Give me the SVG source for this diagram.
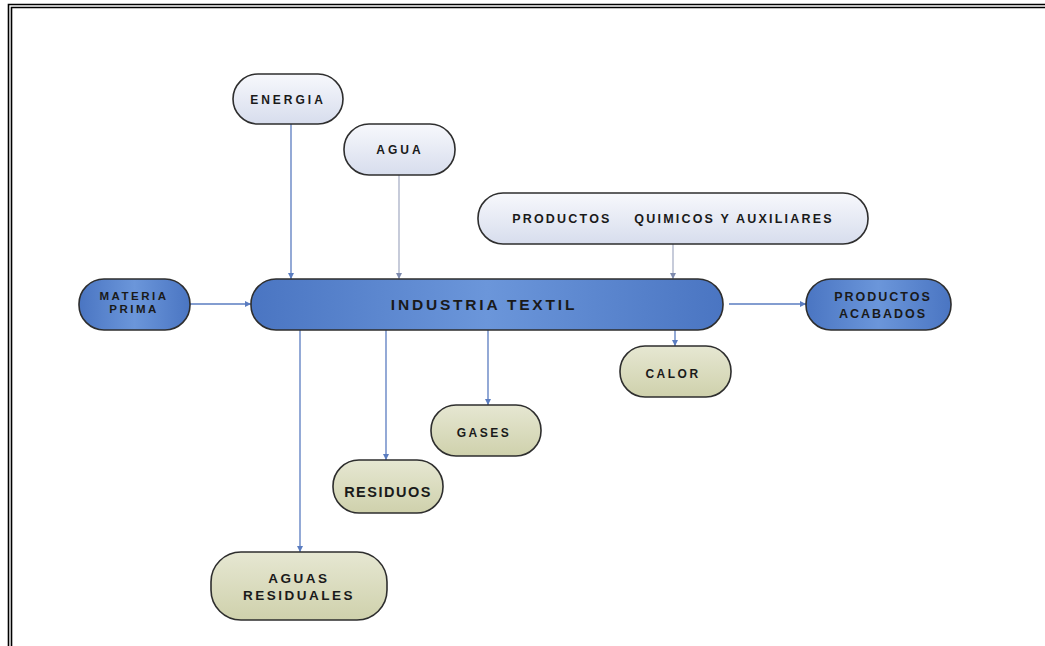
<svg xmlns="http://www.w3.org/2000/svg" width="1045" height="646" viewBox="0 0 1045 646">
  <style>
    .frame { fill: none; stroke: #000; stroke-width: 1.6; }
    .node { stroke: #2e2e2e; stroke-width: 1.6; }
    .light { fill: url(#gLight); }
    .blue { fill: url(#gBlue); }
    .olive { fill: url(#gOlive); }
    .label { font-family: "Liberation Sans", Arial, sans-serif; font-weight: bold; fill: #1a1a1a; text-anchor: middle; }
    .conn { fill: none; stroke: #5a7cc0; stroke-width: 1.3; }
    .conn.faint { stroke: #a9b0c6; }
  </style>
  <defs>
    <linearGradient id="gLight" x1="0" y1="0" x2="0" y2="1">
      <stop offset="0" stop-color="#f7f8fc"/>
      <stop offset="1" stop-color="#d7dded"/>
    </linearGradient>
    <linearGradient id="gBlue" x1="0" y1="0" x2="1" y2="0">
      <stop offset="0" stop-color="#4a75c2"/>
      <stop offset="0.5" stop-color="#6b96da"/>
      <stop offset="1" stop-color="#4a75c2"/>
    </linearGradient>
    <linearGradient id="gOlive" x1="0" y1="0" x2="0" y2="1">
      <stop offset="0" stop-color="#e6e7d2"/>
      <stop offset="1" stop-color="#cfd1ac"/>
    </linearGradient>
    <marker id="arrow" viewBox="0 0 10 10" refX="10" refY="5" markerWidth="6" markerHeight="6" orient="auto" markerUnits="userSpaceOnUse">
      <path d="M0,0 L10,5 L0,10 z" fill="#5a7cc0"/>
    </marker>
    <marker id="arrowFaint" viewBox="0 0 10 10" refX="10" refY="5" markerWidth="6" markerHeight="6" orient="auto" markerUnits="userSpaceOnUse">
      <path d="M0,0 L10,5 L0,10 z" fill="#7d8aae"/>
    </marker>
  </defs>

  <rect width="1045" height="646" fill="#fff"/>

  <!-- page frame: double rule along top and left -->
  <g id="frame">
    <path class="frame" d="M8.5,646 V4.5 H1045"/>
    <path class="frame" d="M11.5,646 V7.5 H1045"/>
  </g>

  <g id="connectors">
    <line class="conn" x1="291" y1="124" x2="291" y2="279" marker-end="url(#arrow)"/>
    <line class="conn faint" x1="399" y1="175" x2="399" y2="279" marker-end="url(#arrowFaint)"/>
    <line class="conn faint" x1="673" y1="244" x2="673" y2="279" marker-end="url(#arrowFaint)"/>
    <line class="conn" x1="190" y1="304" x2="251" y2="304" marker-end="url(#arrow)"/>
    <line class="conn" x1="729" y1="304" x2="806" y2="304" marker-end="url(#arrow)"/>
    <line class="conn" x1="675" y1="330" x2="675" y2="346" marker-end="url(#arrow)"/>
    <line class="conn" x1="488" y1="330" x2="488" y2="405" marker-end="url(#arrow)"/>
    <line class="conn" x1="386" y1="330" x2="386" y2="460" marker-end="url(#arrow)"/>
    <line class="conn" x1="300" y1="330" x2="300" y2="552" marker-end="url(#arrow)"/>
  </g>

  <g id="energia">
    <rect class="node light" x="233" y="74" width="110" height="50" rx="25"/>
    <text class="label" x="288" y="104" font-size="12" letter-spacing="3">ENERGIA</text>
  </g>

  <g id="agua">
    <rect class="node light" x="344" y="124" width="111" height="51" rx="25"/>
    <text class="label" x="400" y="154" font-size="12" letter-spacing="3">AGUA</text>
  </g>

  <g id="productos-quimicos">
    <rect class="node light" x="478" y="193" width="390" height="51" rx="25"/>
    <text class="label" x="673" y="223" font-size="12.5" letter-spacing="2.2" xml:space="preserve">PRODUCTOS    QUIMICOS Y AUXILIARES</text>
  </g>

  <g id="materia-prima">
    <rect class="node blue" x="79" y="279" width="111" height="51" rx="25"/>
    <text class="label" x="134" y="300" font-size="11.5" letter-spacing="2.5">MATERIA</text>
    <text class="label" x="134" y="313" font-size="11.5" letter-spacing="2.5">PRIMA</text>
  </g>

  <g id="industria-textil">
    <rect class="node blue" x="251" y="279" width="472" height="51" rx="25"/>
    <text class="label" x="484" y="310" font-size="15.5" letter-spacing="2.8">INDUSTRIA TEXTIL</text>
  </g>

  <g id="productos-acabados">
    <rect class="node blue" x="806" y="279" width="145" height="51" rx="25"/>
    <text class="label" x="883" y="301" font-size="12.5" letter-spacing="2">PRODUCTOS</text>
    <text class="label" x="883" y="318" font-size="12.5" letter-spacing="2">ACABADOS</text>
  </g>

  <g id="calor">
    <rect class="node olive" x="620" y="346" width="111" height="51" rx="25"/>
    <text class="label" x="673" y="378" font-size="12" letter-spacing="2.5">CALOR</text>
  </g>

  <g id="gases">
    <rect class="node olive" x="431" y="405" width="110" height="51" rx="25"/>
    <text class="label" x="484" y="437" font-size="12" letter-spacing="2.5">GASES</text>
  </g>

  <g id="residuos">
    <rect class="node olive" x="333" y="460" width="110" height="53" rx="26"/>
    <text class="label" x="388" y="497" font-size="14.5" letter-spacing="1.5">RESIDUOS</text>
  </g>

  <g id="aguas-residuales">
    <rect class="node olive" x="211" y="552" width="176" height="68" rx="30"/>
    <text class="label" x="299" y="583" font-size="13.5" letter-spacing="2.5">AGUAS</text>
    <text class="label" x="299" y="600" font-size="13.5" letter-spacing="2.5">RESIDUALES</text>
  </g>
</svg>
